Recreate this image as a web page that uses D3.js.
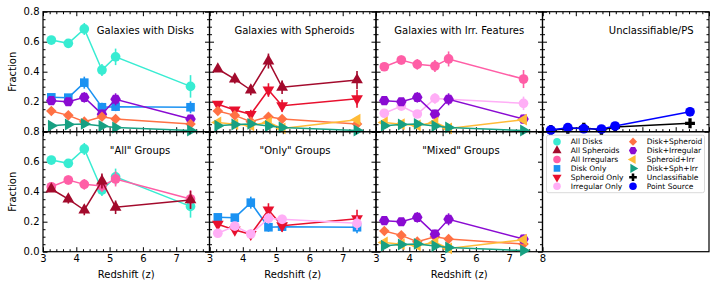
<!DOCTYPE html>
<html>
<head>
<meta charset="utf-8">
<script src="https://cdn.jsdelivr.net/npm/d3@7"></script>
<style>
  body { margin: 0; background: #fff; }
  svg { font-family: 'DejaVu Sans', sans-serif; }
</style>
</head>
<body>
<div id="chart"></div>
<script>
// redshift bins
const redshift = [3.25, 3.76, 4.24, 4.77, 5.18, 7.43]

// fractions + errors
const allDisks = [0.611, 0.589, 0.685, 0.411, 0.499, 0.302]
const allDisksErr = [0.018, 0.028, 0.04, 0.04, 0.055, 0.075]
const allSpheroids = [0.418, 0.351, 0.278, 0.471, 0.296, 0.345]
const allSpheroidsErr = [0.02, 0.03, 0.035, 0.05, 0.045, 0.06]
const allIrregulars = [0.433, 0.478, 0.449, 0.438, 0.485, 0.351]
const allIrregularsErr = [0.022, 0.03, 0.035, 0.04, 0.05, 0.06]
const diskOnly = [0.229, 0.227, 0.327, 0.163, 0.167, 0.163]
const diskOnlyErr = [0.015, 0.015, 0.04, 0.03, 0.03, 0.04]
const spheroidOnly = [0.183, 0.145, 0.116, 0.278, 0.173, 0.22]
const spheroidOnlyErr = [0.015, 0.02, 0.03, 0.045, 0.04, 0.06]
const irregularOnly = [0.123, 0.171, 0.118, 0.222, 0.216, 0.189]
const irregularOnlyErr = [0.012, 0.02, 0.02, 0.035, 0.03, 0.045]
const diskSpheroid = [0.138, 0.109, 0.067, 0.1, 0.085, 0.051]
const diskSpheroidErr = [0.012, 0.015, 0.02, 0.02, 0.02, 0.02]
const diskIrregular = [0.207, 0.2, 0.229, 0.117, 0.216, 0.084]
const diskIrregularErr = [0.015, 0.02, 0.035, 0.03, 0.04, 0.03]
const spheroidIrr = [0.062, 0.05, 0.042, 0.062, 0.022, 0.08]
const spheroidIrrErr = [0.01, 0.012, 0.015, 0.015, 0.01, 0.02]
const diskSphIrr = [0.04, 0.048, 0.052, 0.038, 0.028, 0.008]
const diskSphIrrErr = [0.01, 0.012, 0.018, 0.015, 0.015, 0.008]
const unclassifiable = [0.011, 0.02, 0.027, 0.011, 0.031, 0.056]
const unclassifiableErr = [0.004, 0.006, 0.008, 0.005, 0.008, 0.025]
const pointSource = [0.011, 0.027, 0.02, 0.018, 0.038, 0.133]
const pointSourceErr = [0.005, 0.008, 0.007, 0.008, 0.01, 0.03]

const seriesNames = ['All Disks', 'All Spheroids', 'All Irregulars', 'Disk Only', 'Spheroid Only', 'Irregular Only',
  'Disk+Spheroid', 'Disk+Irregular', 'Spheroid+Irr', 'Disk+Sph+Irr', 'Unclassifiable', 'Point Source']
const seriesValues = [allDisks, allSpheroids, allIrregulars, diskOnly, spheroidOnly, irregularOnly,
  diskSpheroid, diskIrregular, spheroidIrr, diskSphIrr, unclassifiable, pointSource]
const seriesErrors = [allDisksErr, allSpheroidsErr, allIrregularsErr, diskOnlyErr, spheroidOnlyErr, irregularOnlyErr,
  diskSpheroidErr, diskIrregularErr, spheroidIrrErr, diskSphIrrErr, unclassifiableErr, pointSourceErr]
const seriesColors = ['#38ecd2', '#a30a2c', '#ff5ea6', '#1b92f2', '#e8102e', '#ffaef6',
  '#ff7144', '#8a0bd2', '#ffbb38', '#17a082', '#000000', '#0000ff']
const seriesMarkers = ['circle', 'triUp', 'circle', 'square', 'triDown', 'circle',
  'diamond', 'hexagon', 'triLeft', 'triRight', 'plus', 'circle']

const panelTitles = ['Galaxies with Disks', 'Galaxies with Spheroids', 'Galaxies with Irr. Features', 'Unclassifiable/PS',
  '"All" Groups', '"Only" Groups', '"Mixed" Groups']
const panelSeries = [
  ['All Disks', 'Disk Only', 'Disk+Irregular', 'Disk+Spheroid', 'Disk+Sph+Irr'],
  ['All Spheroids', 'Spheroid Only', 'Disk+Spheroid', 'Spheroid+Irr', 'Disk+Sph+Irr'],
  ['All Irregulars', 'Irregular Only', 'Disk+Irregular', 'Spheroid+Irr', 'Disk+Sph+Irr'],
  ['Unclassifiable', 'Point Source'],
  ['All Disks', 'All Irregulars', 'All Spheroids'],
  ['Disk Only', 'Spheroid Only', 'Irregular Only'],
  ['Disk+Spheroid', 'Disk+Irregular', 'Spheroid+Irr', 'Disk+Sph+Irr']
]
// title centre as fraction of panel width
const titlePos = [0.615, 0.51, 0.5, 0.653, 0.583, 0.514, 0.51]

const yTicks = [0, 0.2, 0.4, 0.6, 0.8]
const xTicks = [3, 4, 5, 6, 7, 8]

const W = 717, H = 289
const gridLeft = 43, gridTop = 11.7, pw = 166.5, ph = 120

const svg = d3.select('#chart').append('svg')
  .attr('width', W)
  .attr('height', H)

const series = seriesNames.map((name, i) => ({
  name: name,
  color: seriesColors[i],
  marker: seriesMarkers[i],
  points: redshift.map((z, j) => ({ z: z, v: seriesValues[i][j], e: seriesErrors[i][j] }))
}))
const byName = new Map(series.map(s => [s.name, s]))

const hexagon = {
  draw(ctx, size) {
    const r = Math.sqrt(size * 2 / (3 * Math.sqrt(3)))
    for (let k = 0; k < 6; k++) {
      const a = Math.PI / 3 * k
      const px = r * Math.cos(a), py = r * Math.sin(a)
      k === 0 ? ctx.moveTo(px, py) : ctx.lineTo(px, py)
    }
    ctx.closePath()
  }
}

function markerPath(kind, scale) {
  const s = scale || 1
  if (kind === 'circle') return { d: d3.symbol(d3.symbolCircle, 74 * s)(), rot: 0 }
  if (kind === 'square') return { d: d3.symbol(d3.symbolSquare, 74 * s)(), rot: 0 }
  if (kind === 'diamond') return { d: d3.symbol(d3.symbolSquare, 56 * s)(), rot: 45 }
  if (kind === 'hexagon') return { d: d3.symbol(hexagon, 72 * s)(), rot: 0 }
  if (kind === 'plus') return { d: d3.symbol(d3.symbolCross, 54 * s)(), rot: 0 }
  const tri = d3.symbol(d3.symbolTriangle, 60 * s)()
  const rot = { triUp: 0, triDown: 180, triLeft: -90, triRight: 90 }[kind]
  return { d: tri, rot: rot }
}

function drawPanel(idx, row, col) {
  const x0 = gridLeft + col * pw
  const y0 = gridTop + row * ph
  const x = d3.scaleLinear().domain([3, 8]).range([x0, x0 + pw])
  const y = d3.scaleLinear().domain([0, 0.8]).range([y0 + ph, y0])
  const g = svg.append('g')

  // ticks (pointing in) on all four sides
  const xMinor = d3.range(3, 8.001, 0.2).filter(v => Math.abs(v - Math.round(v)) > 1e-6)
  const yMinor = d3.range(0, 0.801, 0.05).filter(v => Math.abs(v / 0.2 - Math.round(v / 0.2)) > 1e-6)
  const showX = row === 1
  const showY = col === 0

  const axes = [
    [d3.axisBottom(x), y0 + ph, 'x', showX],
    [d3.axisTop(x), y0, 'x', false],
    [d3.axisLeft(y), x0, 'y', showY],
    [d3.axisRight(y), x0 + pw, 'y', false]
  ]
  axes.forEach(([ax, pos, dim, labels]) => {
    const tr = dim === 'x' ? `translate(0,${pos})` : `translate(${pos},0)`
    const major = dim === 'x' ? xTicks : yTicks
    const minor = dim === 'x' ? xMinor : yMinor
    g.append('g').attr('transform', tr)
      .call(ax.tickValues(minor).tickSize(-2.5).tickFormat(''))
      .call(a => a.select('.domain').remove())
    const ga = g.append('g').attr('transform', tr)
      .call(ax.tickValues(major).tickSize(-4.5).tickPadding(3.5)
        .tickFormat(labels ? (dim === 'x' ? d3.format('d') : d3.format('.1f')) : ''))
      .call(a => a.select('.domain').remove())
    ga.selectAll('text').attr('font-size', 10).attr('font-family', 'DejaVu Sans').attr('fill', '#000')
    ga.selectAll('line').attr('stroke-width', 1)
    if (labels && dim === 'y' && row === 0) ga.selectAll('text').filter(d => d === 0).remove()
    if (labels && dim === 'x' && col !== 2) ga.selectAll('text').filter(d => d === 8).remove()
  })

  g.append('rect')
    .attr('x', x0).attr('y', y0).attr('width', pw).attr('height', ph)
    .attr('fill', 'none').attr('stroke', '#000').attr('stroke-width', 1.2)

  const line = d3.line().x(d => x(d.z)).y(d => y(d.v))

  panelSeries[idx].forEach(name => {
    const s = byName.get(name)
    const sg = g.append('g')
    sg.selectAll('line.err').data(s.points).enter().append('line')
      .attr('x1', d => x(d.z)).attr('x2', d => x(d.z))
      .attr('y1', d => y(d.v - d.e)).attr('y2', d => y(d.v + d.e))
      .attr('stroke', s.color).attr('stroke-width', 1.6)
    sg.append('path').datum(s.points)
      .attr('d', line).attr('fill', 'none')
      .attr('stroke', s.color).attr('stroke-width', 1.5)
    const m = markerPath(s.marker)
    sg.selectAll('path.mk').data(s.points).enter().append('path')
      .attr('class', 'mk')
      .attr('d', m.d)
      .attr('transform', d => `translate(${x(d.z)},${y(d.v)}) rotate(${m.rot})`)
      .attr('fill', s.color)
  })

  g.append('text')
    .attr('x', x0 + pw * titlePos[idx])
    .attr('y', y0 + 22.5)
    .attr('text-anchor', 'middle')
    .attr('font-size', 10)
    .text(panelTitles[idx])

  if (row === 1) {
    g.append('text')
      .attr('x', x0 + pw / 2).attr('y', 278)
      .attr('text-anchor', 'middle').attr('font-size', 10)
      .text('Redshift (z)')
  }
  if (col === 0) {
    g.append('text')
      .attr('transform', `translate(16,${y0 + ph / 2}) rotate(-90)`)
      .attr('text-anchor', 'middle').attr('font-size', 10)
      .text('Fraction')
  }
}

for (let c = 0; c < 4; c++) drawPanel(c, 0, c)
for (let c = 0; c < 3; c++) drawPanel(4 + c, 1, c)

// legend panel
const lx0 = gridLeft + 3 * pw, ly0 = gridTop + ph
svg.append('rect')
  .attr('x', lx0).attr('y', ly0).attr('width', pw).attr('height', ph)
  .attr('fill', 'none').attr('stroke', '#000').attr('stroke-width', 1.2)

const lg = svg.append('g')
lg.append('rect')
  .attr('x', lx0 + 4).attr('y', ly0 + 3.5).attr('width', 158).attr('height', 57.5)
  .attr('rx', 2).attr('fill', '#fff').attr('stroke', '#d0d0d0').attr('stroke-width', 0.8)

series.forEach((s, i) => {
  const col = Math.floor(i / 6), r = i % 6
  const mx = lx0 + 14.5 + col * 76
  const my = ly0 + 10 + r * 8.9
  const m = markerPath(s.marker, 0.6)
  lg.append('path').attr('d', m.d)
    .attr('transform', `translate(${mx},${my}) rotate(${m.rot})`)
    .attr('fill', s.color)
  lg.append('text')
    .attr('x', mx + 13.7).attr('y', my)
    .attr('dy', '0.35em')
    .attr('font-size', 7.5)
    .text(s.name)
})
</script>
</body>
</html>
